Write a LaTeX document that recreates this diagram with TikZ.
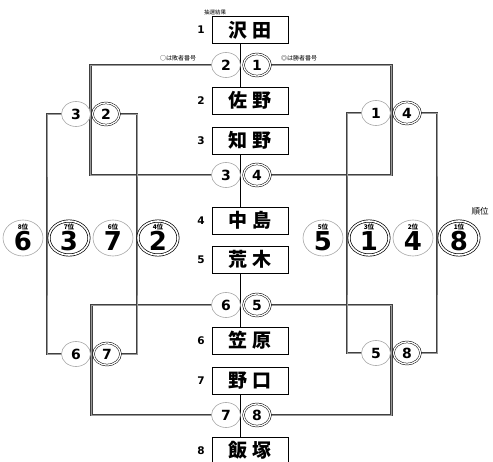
\documentclass[tikz,border=0pt]{standalone}
\usepackage{fontspec}
\newfontfamily\jpfont{Noto Sans CJK JP}
\newfontfamily\numfont{DejaVu Sans}
\usetikzlibrary{shapes.geometric,backgrounds}

\begin{document}
\begin{tikzpicture}[x=1pt,y=-1pt,
  every node/.style={inner sep=0pt, outer sep=0pt},
  namebox/.style={draw, line width=0.8pt, fill=white, minimum width=76, minimum height=27, font=\jpfont\bfseries\fontsize{19}{19}\selectfont},
  seed/.style={font=\numfont\bfseries\fontsize{10.5}{10.5}\selectfont},
  lose/.style={ellipse, draw=black!35, line width=0.6pt, fill=white, minimum width=29, minimum height=25, font=\numfont\bfseries\fontsize{14}{14}\selectfont},
  win/.style={ellipse, draw=black, line width=0.5pt, double=white, double distance=1.3pt, fill=white, minimum width=27, minimum height=22, font=\numfont\bfseries\fontsize{14}{14}\selectfont},
  flose/.style={lose, minimum width=40, minimum height=36, font=\numfont\bfseries\fontsize{26}{26}\selectfont},
  fwin/.style={win, minimum width=40, minimum height=34, line width=0.7pt, double distance=1.6pt, font=\numfont\bfseries\fontsize{26}{26}\selectfont},
  rank/.style={font=\jpfont\bfseries\fontsize{6.5}{6.5}\selectfont},
  note/.style={font=\jpfont\fontsize{6}{6}\selectfont},
  tline/.style={draw=black!75, line width=0.7pt, double=black!40, double distance=1pt},
  cline/.style={draw=black, line width=1.8pt}]
\useasboundingbox (0,0) rectangle (493,461);
% players
\node[namebox] (n1) at (250,30) {沢\hspace{5pt}田};
\node[namebox] (n2) at (250,100.5) {佐\hspace{5pt}野};
\node[namebox] (n3) at (250,140.5) {知\hspace{5pt}野};
\node[namebox] (n4) at (250,220.5) {中\hspace{5pt}島};
\node[namebox] (n5) at (250,259.5) {荒\hspace{5pt}木};
\node[namebox] (n6) at (250,340.5) {笠\hspace{5pt}原};
\node[namebox] (n7) at (250,380.5) {野\hspace{5pt}口};
\node[namebox] (n8) at (250,450.5) {飯\hspace{5pt}塚};
\node[seed] (k1) at (201,30) {1};
\node[seed] (k2) at (201,100.5) {2};
\node[seed] (k3) at (201,140.5) {3};
\node[seed] (k4) at (201,220.5) {4};
\node[seed] (k5) at (201,259.5) {5};
\node[seed] (k6) at (201,340.5) {6};
\node[seed] (k7) at (201,380.5) {7};
\node[seed] (k8) at (201,450.5) {8};
% first round
\node[lose] (m1l) at (226,65) {2};
\node[win] (m1w) at (257,65) {1};
\node[lose] (m2l) at (226,175) {3};
\node[win] (m2w) at (257,175) {4};
\node[lose] (m3l) at (226,305) {6};
\node[win] (m3w) at (257,305) {5};
\node[lose] (m4l) at (226,415) {7};
\node[win] (m4w) at (257,415) {8};
% second round
\node[lose] (a3) at (76,114) {3};
\node[win] (a2) at (106,114) {2};
\node[lose] (b6) at (76,354) {6};
\node[win] (b7) at (107,354) {7};
\node[lose] (c1) at (376,113) {1};
\node[win] (c4) at (407,113) {4};
\node[lose] (d5) at (376,353) {5};
\node[win] (d8) at (407,353) {8};
% places
\node[flose] (f6) at (23,238) {\raisebox{-12pt}[0pt][0pt]{6}};
\node[fwin] (f3) at (69,238) {\raisebox{-12pt}[0pt][0pt]{3}};
\node[flose] (f7) at (113,238) {\raisebox{-12pt}[0pt][0pt]{7}};
\node[fwin] (f2) at (158,238) {\raisebox{-12pt}[0pt][0pt]{2}};
\node[flose] (f5) at (323,238) {\raisebox{-12pt}[0pt][0pt]{5}};
\node[fwin] (f1) at (369,238) {\raisebox{-12pt}[0pt][0pt]{1}};
\node[flose] (f4) at (413,238) {\raisebox{-12pt}[0pt][0pt]{4}};
\node[fwin] (f8) at (459,238) {\raisebox{-12pt}[0pt][0pt]{8}};
\node[rank] (r6) at (23,227) {8位};
\node[rank] (r3) at (69,227) {7位};
\node[rank] (r7) at (113,227) {6位};
\node[rank] (r2) at (158,227) {4位};
\node[rank] (r5) at (323,227) {5位};
\node[rank] (r1) at (369,227) {3位};
\node[rank] (r4) at (413,227) {2位};
\node[rank] (r8) at (459,227) {1位};
% notes
\node[note, font=\jpfont\fontsize{5.5}{5.5}\selectfont] (res) at (215,12) {抽選結果};
\node[note] (lnote) at (178,58) {○は敗者番号};
\node[note] (wnote) at (299,58) {◎は勝者番号};
\node[font=\jpfont\fontsize{8.5}{8.5}\selectfont] (place) at (480,211) {順位};
% bends of the lines
\coordinate (ga) at (90.5,114);
\coordinate (gb) at (91.5,354);
\coordinate (gc) at (391.5,113);
\coordinate (gd) at (391.5,353);
\coordinate (gl1) at (47,238);
\coordinate (gl2) at (137,238);
\coordinate (gr1) at (347,238);
\coordinate (gr2) at (437,238);
\begin{scope}[on background layer]
\draw[cline] (n1.south -| m1l.east) -- (n2.north -| m1l.east);
\draw[cline] (n3.south -| m2l.east) -- (n4.north -| m2l.east);
\draw[cline] (n5.south -| m3l.east) -- (n6.north -| m3l.east);
\draw[cline] (n7.south -| m4l.east) -- (n8.north -| m4l.east);
\draw[tline] (m1l) -| (ga) |- (m2l);
\draw[tline] (m1w) -| (gc) |- (m2w);
\draw[tline] (m3l) -| (gb) |- (m4l);
\draw[tline] (m3w) -| (gd) |- (m4w);
\draw[tline] (a3) -| (gl1) |- (b6);
\draw[tline] (a2) -| (gl2) |- (b7);
\draw[tline] (c1) -| (gr1) |- (d5);
\draw[tline] (c4) -| (gr2) |- (d8);
\end{scope}
\end{tikzpicture}
\end{document}
